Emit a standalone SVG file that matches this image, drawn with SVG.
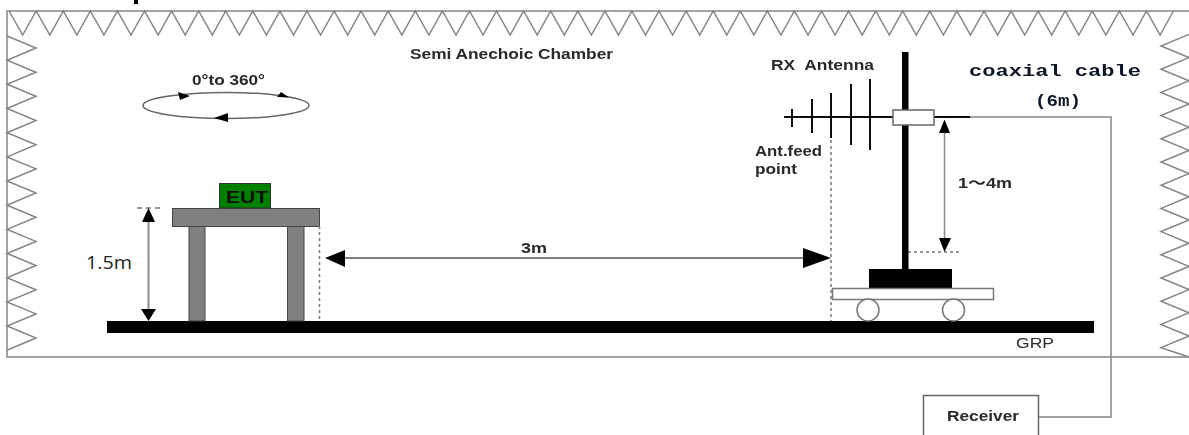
<svg xmlns="http://www.w3.org/2000/svg" width="1189" height="435" viewBox="0 0 1189 435">
<style>
.wall{fill:none;stroke:#858585;stroke-width:1.5}
.t{font-family:"Liberation Sans",Arial,sans-serif;font-size:14.5px;font-weight:bold;fill:#2a2a2a;filter:url(#softer)}
.grey{fill:none;stroke:#858585;stroke-width:1.5}
.dim{fill:none;stroke:#8a8a8a;stroke-width:2}
.dot{fill:none;stroke:#777;stroke-width:1.5;stroke-dasharray:3 3}
.blk{fill:#000}
.metal{fill:#808080;stroke:#444;stroke-width:1}
.el{stroke:#111;stroke-width:2}
.mono{font-family:"Liberation Mono",monospace;font-weight:bold;font-size:17px;fill:#101828;filter:url(#softer)}
</style>
<defs>
<filter id="soft" x="-2%" y="-2%" width="104%" height="104%"><feGaussianBlur stdDeviation="0.45"/></filter>
<filter id="softer" x="-5%" y="-20%" width="110%" height="140%"><feGaussianBlur stdDeviation="0.35"/></filter>
</defs>
<rect width="1189" height="435" fill="#fff"/>
<g id="chamber" filter="url(#soft)">
<rect class="blk" x="134" y="0" width="4" height="4"/>
<path class="wall" d="M1189 11H7V357H1189" stroke-width="2"/>
<polyline class="wall" points="9.1,11 22.7,35 36.2,11 49.8,35 63.3,11 76.9,35 90.3,11 103.9,35 117.4,11 131,35 144.5,11 158.1,35 171.6,11 185.2,35 198.7,11 212.3,35 225.7,11 239.3,35 252.8,11 266.4,35 279.9,11 293.5,35 307,11 320.6,35 334.1,11 347.7,35 361.1,11 374.7,35 388.2,11 401.8,35 415.3,11 428.9,35 442.4,11 456,35 469.5,11 483.1,35 496.5,11 510.1,35 523.6,11 537.2,35 550.7,11 564.3,35 577.8,11 591.4,35 604.9,11 618.5,35 631.9,11 645.5,35 659,11 672.6,35 686.1,11 699.7,35 713.2,11 726.8,35 740.3,11 753.9,35 767.3,11 780.9,35 794.4,11 808,35 821.5,11 835.1,35 848.6,11 862.2,35 875.7,11 889.3,35 902.7,11 916.3,35 929.8,11 943.4,35 956.9,11 970.5,35 984,11 997.6,35 1011.1,11 1024.7,35 1038.1,11 1051.7,35 1065.2,11 1078.8,35 1092.3,11 1105.9,35 1119.4,11 1133,35 1146.5,11 1160.1,35 1173.5,11"/>
<polyline class="wall" points="7,36 36,48 7,60.2 36,72.2 7,84.3 36,96.3 7,108.5 36,120.5 7,132.7 36,144.7 7,156.9 36,168.9 7,181 36,193 7,205.2 36,217.2 7,229.4 36,241.4 7,253.5 36,265.5 7,277.7 36,289.7 7,301.9 36,313.9 7,326 36,338 7,350.2"/>
<polyline class="wall" points="1189,34.4 1161,46 1189,57.6 1161,69.2 1189,80.8 1161,92.4 1189,104 1161,115.6 1189,127.2 1161,138.8 1189,150.4 1161,162 1189,173.6 1161,185.2 1189,196.8 1161,208.4 1189,220 1161,231.6 1189,243.2 1161,254.8 1189,266.4 1161,278 1189,289.6 1161,301.2 1189,312.8 1161,324.4 1189,336 1161,347.6 1189,357"/>
<rect class="blk" x="107" y="321" width="987" height="12"/>
</g>
<text class="t" x="410" y="59" textLength="203" lengthAdjust="spacingAndGlyphs">Semi Anechoic Chamber</text>
<text class="t" x="1016" y="348" textLength="38" lengthAdjust="spacingAndGlyphs" style="font-weight:normal;font-size:15px">GRP</text>
<g id="rotation" filter="url(#soft)">
<ellipse class="grey" cx="226" cy="105.5" rx="83" ry="13" style="stroke:#666"/>
<path class="blk" d="M178 92L190 96L180 100ZM277 97L289 97.5L281 92ZM228 113V122L214 118Z"/>
</g>
<text class="t" x="192" y="85" textLength="73" lengthAdjust="spacingAndGlyphs">0°to 360°</text>
<g id="eut-table" filter="url(#soft)">
<rect x="189" y="226" width="16" height="95" class="metal"/>
<rect x="287.5" y="226" width="16.5" height="95" class="metal"/>
<rect x="172.5" y="208.5" width="147" height="18" class="metal"/>
<rect x="219.5" y="183.5" width="51" height="24.5" fill="#008000" stroke="#333"/>
</g>
<text class="t" x="226" y="203" textLength="42" lengthAdjust="spacingAndGlyphs" style="font-size:17px;fill:#0a0a0a">EUT</text>
<g id="connectors" filter="url(#soft)">
<path class="dot" d="M137 208H164" style="stroke-dasharray:5 4"/>
<path class="dim" d="M148.5 218V312"/>
<path class="blk" d="M148.5 208L155 222H142ZM148.5 321L141 309H156Z"/>
<path class="dot" d="M319.5 226V319"/>
<path class="dot" d="M831 140V321"/>
<path d="M340 258H810" fill="none" stroke="#555" stroke-width="1.5"/>
<path class="blk" d="M325 258L345 250V267ZM831 258L803 248V268Z"/>
<path class="dim" d="M944.5 130V242" style="stroke-width:1.5"/>
<path class="blk" d="M944.5 119.5L950 133H939ZM944.5 252L939 238H951Z"/>
<path class="dot" d="M908 252H960"/>
<path class="grey" d="M970 117H1111V417H1038"/>
</g>
<g id="antenna" filter="url(#soft)">
<rect class="blk" x="902" y="52" width="6.5" height="218"/>
<rect class="blk" x="869" y="269" width="83" height="19.5"/>
<rect x="832.5" y="288.5" width="161" height="11" fill="#fff" stroke="#777" stroke-width="1.5"/>
<circle cx="868" cy="310" r="11" fill="#fff" stroke="#777" stroke-width="1.5"/>
<circle cx="953.5" cy="310" r="11" fill="#fff" stroke="#777" stroke-width="1.5"/>
<path class="el" d="M784 117H893M934 117H970M792 109V127M812 99V133M831 93V138M851 84V145M870 79V150"/>
<rect x="893" y="110" width="41" height="15" fill="#fff" stroke="#666" stroke-width="1.5"/>
</g>
<text class="t" x="771" y="70" textLength="103" lengthAdjust="spacingAndGlyphs" xml:space="preserve">RX  Antenna</text>
<text class="t" x="755" y="156" textLength="67" lengthAdjust="spacingAndGlyphs">Ant.feed</text>
<text class="t" x="755" y="174" textLength="42" lengthAdjust="spacingAndGlyphs">point</text>
<text class="t" x="958" y="188" textLength="54" lengthAdjust="spacingAndGlyphs" style="font-family:'Liberation Sans','Noto Sans CJK SC',sans-serif">1～4m</text>
<text class="t" x="521" y="253" textLength="26" lengthAdjust="spacingAndGlyphs">3m</text>
<text x="86" y="269" textLength="46" lengthAdjust="spacingAndGlyphs" style="font-family:'Open Sans',sans-serif;font-size:18px;fill:#222">1.5m</text>
<text class="mono" x="969" y="76" textLength="172" lengthAdjust="spacingAndGlyphs">coaxial cable</text>
<text class="mono" x="1035" y="106" textLength="46" lengthAdjust="spacingAndGlyphs">(6m)</text>
<g id="receiver">
<path d="M923.5 435V395.5H1038.5V435" fill="#fff" stroke="#666" stroke-width="1.5" filter="url(#soft)"/>
<text class="t" x="947" y="421" textLength="72" lengthAdjust="spacingAndGlyphs">Receiver</text>
</g>
</svg>
